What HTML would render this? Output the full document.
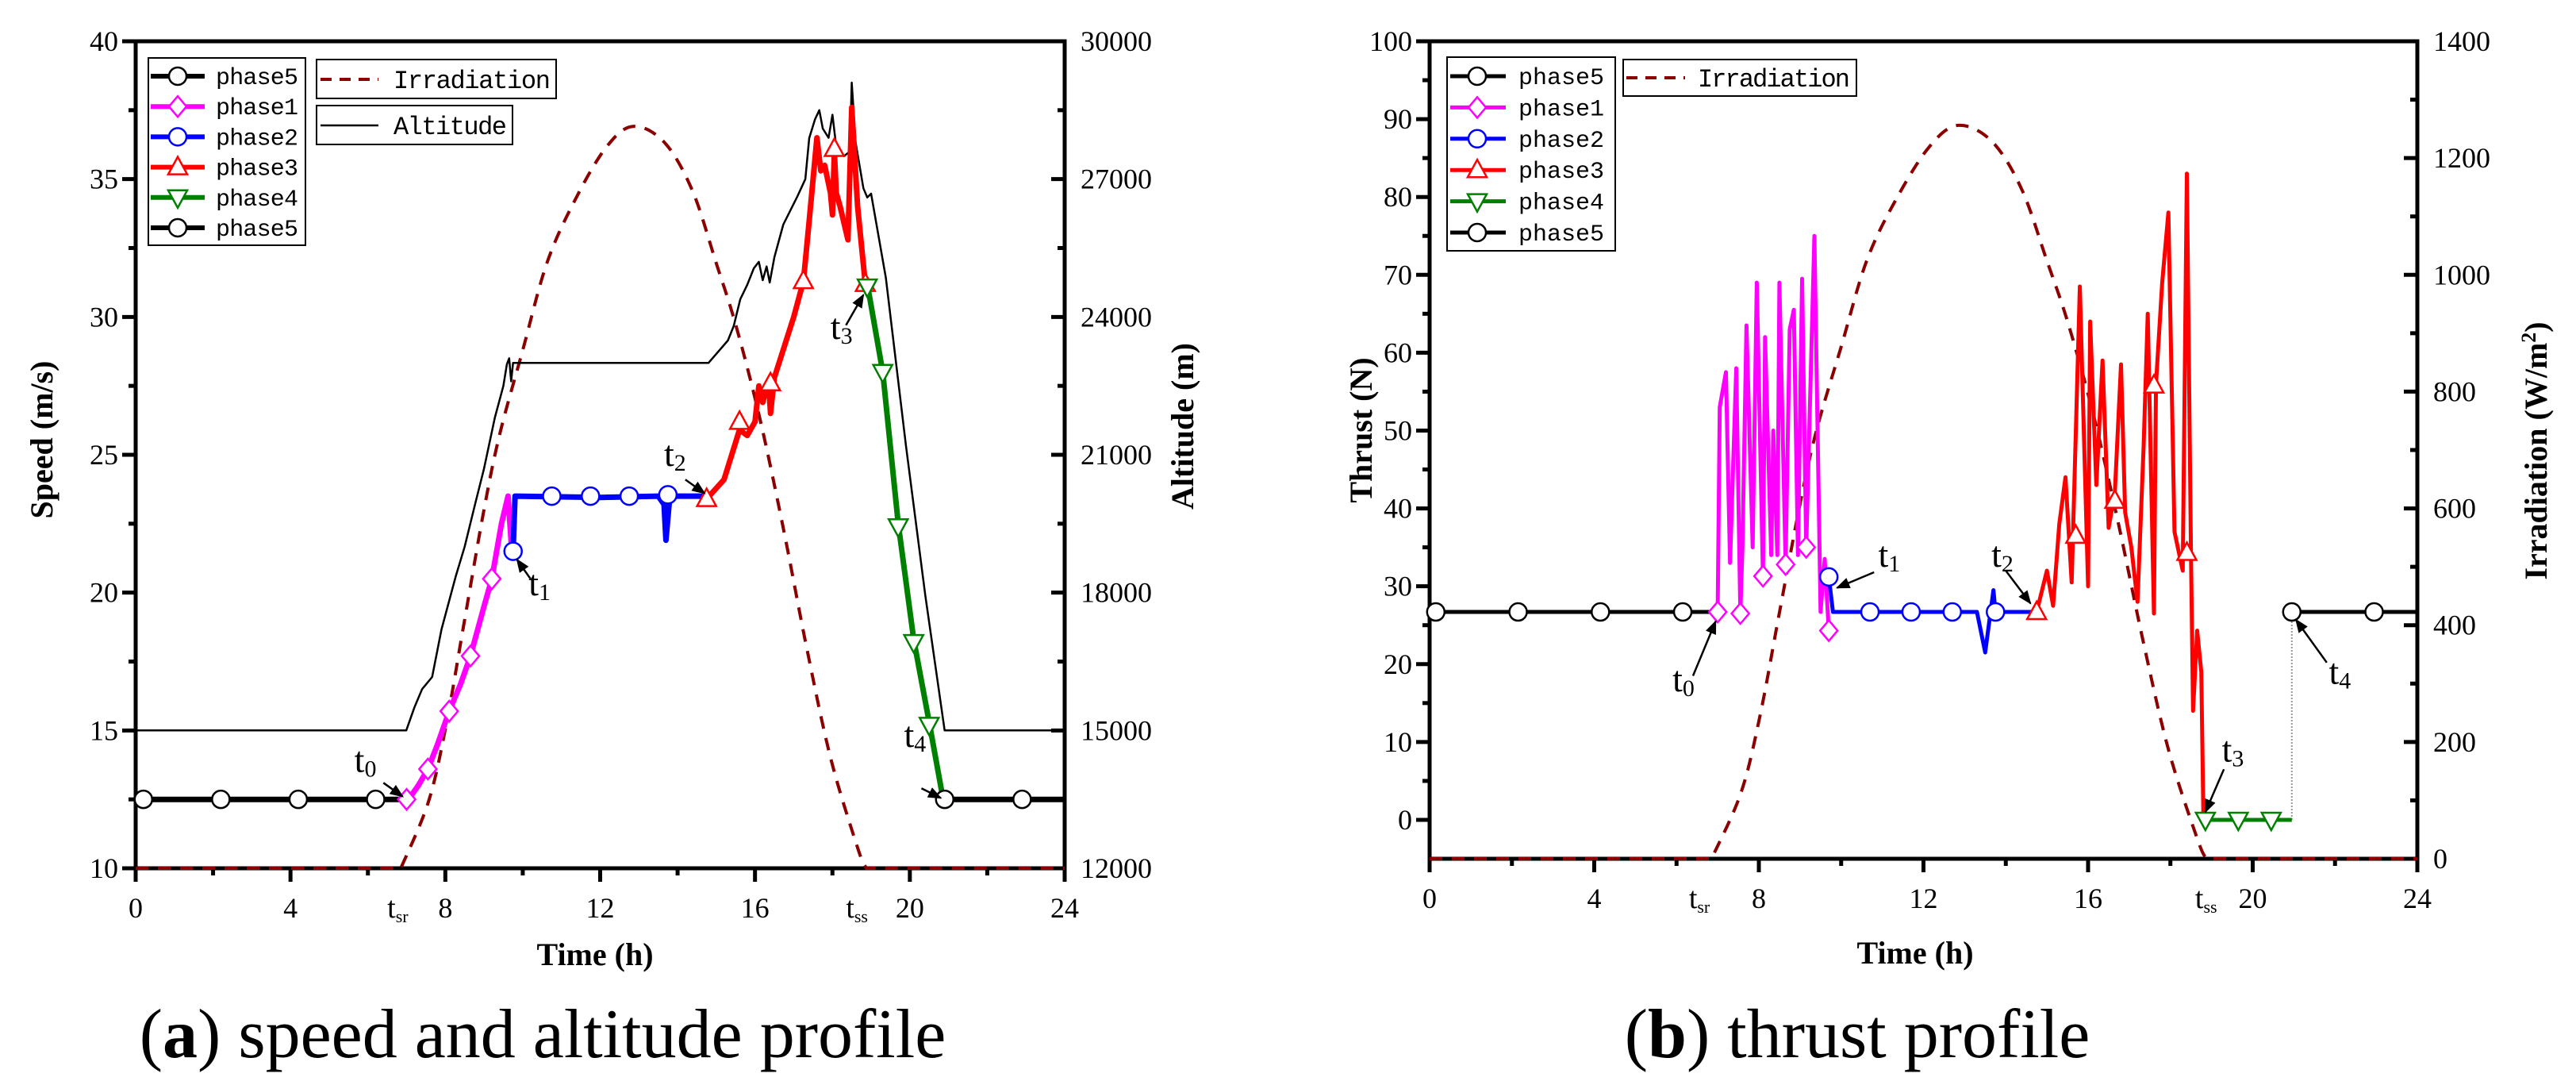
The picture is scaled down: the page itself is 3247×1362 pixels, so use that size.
<!DOCTYPE html>
<html><head><meta charset="utf-8"><style>
html,body{margin:0;padding:0;background:#fff}
svg{display:block;font-family:"Liberation Serif",serif}
</style></head><body>
<svg id="s" width="3247" height="1362" viewBox="0 0 3247 1362" xmlns="http://www.w3.org/2000/svg">
<defs><marker id="ah" viewBox="0 0 10 10" refX="9" refY="5" markerWidth="7" markerHeight="7" orient="auto"><path d="M0,1 L10,5 L0,9 z" fill="#000"/></marker></defs>
</svg>
<script>
// ---- shared irradiation data ----
const irrT=[0,6.85,7.56,8.02,8.48,8.98,9.39,10.0,10.62,11.34,12.15,12.85,13.67,14.39,15.0,15.51,16.12,16.73,17.34,17.96,18.67,18.88,24];
const irrV=[0,0,112,242,414,600,731,877,1024,1130,1220,1256,1228,1146,1024,918,763,576,372,185,31,0,0];
// ---- panel a: speed ----
const a5aT=[0,7], a5aV=[12.5,12.5], a5aMT=[0.2,2.2,4.2,6.2];
const a1T=[7,7.3,7.55,7.8,8.1,8.4,8.65,9.0,9.2,9.45,9.62,9.72];
const a1V=[12.4,13.0,13.6,14.5,15.7,16.7,17.7,19.5,20.5,22.5,23.5,21.4];
const a1MT=[7,7.55,8.1,8.65,9.2], a1MV=[12.5,13.6,15.7,17.7,20.5];
const a2T=[9.75,9.8,12.0,13.5,13.65,13.7,13.8,14.75];
const a2V=[21.5,23.5,23.45,23.5,23.2,21.9,23.5,23.5];
const a2MT=[9.75,10.75,11.75,12.75,13.75], a2MV=[21.5,23.5,23.5,23.5,23.55];
const a3T=[14.75,15.2,15.6,15.8,16.0,16.1,16.2,16.35,16.4,16.5,17.0,17.25,17.4,17.6,17.7,17.8,17.95,18.0,18.05,18.1,18.2,18.4,18.5,18.65,18.85];
const a3V=[23.4,24.1,25.9,25.7,26.2,27.5,26.9,27.7,26.5,27.8,30.0,31.3,33.5,36.5,35.3,35.5,34.5,33.7,36.0,34.5,34.0,32.8,37.6,34.0,31.2];
const a3MT=[14.75,15.6,16.4,17.25,18.05,18.85], a3MV=[23.4,26.2,27.6,31.3,36.1,31.2];
const a4T=[18.9,19.3,19.7,20.1,20.5,20.9], a4V=[31.2,28.0,22.5,18.3,15.3,12.2];
const a4MT=[18.9,19.3,19.7,20.1,20.5], a4MV=[31.1,28.0,22.4,18.2,15.2];
const a5bT=[20.9,24], a5bV=[12.5,12.5], a5bMT=[20.9,22.9];
const altT=[0,6.99,7.2,7.4,7.66,7.9,8.27,8.5,8.77,9.0,9.28,9.5,9.59,9.65,9.7,9.75,10,14.8,15.3,15.45,15.62,15.8,15.97,16.1,16.2,16.3,16.38,16.5,16.73,17.1,17.3,17.4,17.55,17.66,17.75,17.9,18.0,18.1,18.3,18.45,18.5,18.6,18.8,18.9,19.0,19.38,19.9,20.4,20.9,24];
const altV=[15000,15000,15500,15900,16163,17200,18357,19000,19929,20700,21812,22500,22970,23100,22600,23000,23000,23000,23487,23800,24386,24700,25059,25200,24800,25100,24749,25300,26010,26632,27000,27892,28300,28500,28100,27900,28400,27700,27500,27600,29100,27800,26800,26600,26684,24852,21190,17942,15000,15000];
// ---- panel b: thrust ----
const b5aT=[0,7], b5aV=[26.7,26.7], b5aMT=[0.15,2.15,4.15,6.15];
const b1T=[7.0,7.05,7.2,7.3,7.45,7.55,7.6,7.7,7.85,7.95,8.1,8.15,8.3,8.35,8.45,8.5,8.65,8.75,8.85,8.95,9.05,9.15,9.35,9.5,9.6,9.7];
const b1V=[26.7,53,57.5,33,58,26.5,35,63.5,35,69,31,62,34,50,34,69,33,63,65.5,34,69.5,35,75,26.7,33.5,24.3];
const b1MT=[7.0,7.55,8.1,8.65,9.15,9.7], b1MV=[26.7,26.5,31.3,32.8,35,24.3];
const b2T=[9.7,9.8,13.3,13.5,13.7,13.75,14.75], b2V=[31.2,26.7,26.7,21.5,29.5,26.7,26.7];
const b2MT=[9.7,10.7,11.7,12.7,13.75], b2MV=[31.2,26.7,26.7,26.7,26.7];
const b3T=[14.75,15.0,15.15,15.3,15.45,15.6,15.8,16.0,16.05,16.2,16.35,16.5,16.65,16.8,16.9,17.05,17.2,17.35,17.45,17.6,17.65,17.8,17.95,18.1,18.3,18.4,18.5,18.55,18.65,18.75,18.8];
const b3V=[26.7,32,27.5,38,44,30.5,68.5,30,64,43,59,37.5,42,58.5,39.5,35,28,48,65,26.5,56,69,78,37,32,83,34,14,24.3,19,0.5];
const b3MT=[14.75,15.7,16.65,17.6,18.4], b3MV=[26.7,36.5,41,55.8,34.3];
const b4T=[18.85,20.95], b4V=[0,0], b4MT=[18.85,19.65,20.45];
const b5bT=[20.95,24], b5bV=[26.7,26.7], b5bMT=[20.95,22.95];
// ---- tick labels ----
const xTicks=[0,4,8,12,16,20,24];
const speedTicks=[10,15,20,25,30,35,40];
const altTicks=[12000,15000,18000,21000,24000,27000,30000];
const thrustTicks=[0,10,20,30,40,50,60,70,80,90,100];
const irrTicks=[0,200,400,600,800,1000,1200,1400];

const S=document.getElementById('s');
const NS='http://www.w3.org/2000/svg';
const MONO='"Liberation Mono", monospace';
function mk(tag,attrs,parent,name){const e=document.createElementNS(NS,tag);for(const k in attrs)e.setAttribute(k,attrs[k]);(parent||S).appendChild(e);


return e;}
function lin(d0,d1,p0,p1){return v=>p0+(v-d0)*(p1-p0)/(d1-d0);}
function path(T,V,X,Y,attrs,name,g){let d='';T.forEach((t,i)=>{d+=(i?'L':'M')+X(t).toFixed(1)+','+Y(V[i]).toFixed(1);});const a=Object.assign({d:d,fill:'none','stroke-linejoin':'round'},attrs);return mk('path',a,g,name);}
function smoothPath(T,V,X,Y,attrs,name,g){
  const P=T.map((t,i)=>[X(t),Y(V[i])]);
  const flat=i=>(i>=0&&i<P.length-1&&P[i][1]===P[i+1][1]);
  let d='M'+P[0][0].toFixed(1)+','+P[0][1].toFixed(1);
  for(let i=0;i<P.length-1;i++){
    const p1=P[i],p2=P[i+1];
    if(flat(i)){d+='L'+p2[0].toFixed(1)+','+p2[1].toFixed(1);continue;}
    const p0=(i>0&&!flat(i-1))?P[i-1]:p1;
    const p3=(i+2<P.length&&!flat(i+1))?P[i+2]:p2;
    const c1=[p1[0]+(p2[0]-p0[0])/6,p1[1]+(p2[1]-p0[1])/6];
    const c2=[p2[0]-(p3[0]-p1[0])/6,p2[1]-(p3[1]-p1[1])/6];
    d+='C'+c1[0].toFixed(1)+','+c1[1].toFixed(1)+' '+c2[0].toFixed(1)+','+c2[1].toFixed(1)+' '+p2[0].toFixed(1)+','+p2[1].toFixed(1);
  }
  const a=Object.assign({d:d,fill:'none'},attrs);return mk('path',a,g,name);
}
function marker(type,x,y,col,g,name){
  const r=11;
  if(type==='c') return mk('circle',{cx:x,cy:y,r:r,fill:'#fff',stroke:col,'stroke-width':2.5},g,name);
  let pts;
  if(type==='d') pts=[[x,y-13],[x+11,y],[x,y+13],[x-11,y]];
  if(type==='u') pts=[[x,y-13],[x+12,y+9],[x-12,y+9]];
  if(type==='v') pts=[[x,y+13],[x+12,y-9],[x-12,y-9]];
  return mk('polygon',{points:pts.map(p=>p.join(',')).join(' '),fill:'#fff',stroke:col,'stroke-width':2.5},g,name);
}
function markers(type,T,V,X,Y,col,g,name){T.forEach((t,i)=>{marker(type,X(t),Y(Array.isArray(V)?V[i]:V),col,g,name);});}
function txt(s,x,y,attrs,g,name){const e=mk('text',Object.assign({x:x,y:y},attrs),g,name);e.textContent=s;return e;}
function tlabel(main,sub,x,y,g,name,fs,sfs){const e=mk('text',{x:x,y:y,'font-size':fs||46},g,name);const a=document.createElementNS(NS,'tspan');a.textContent=main;e.appendChild(a);const b=document.createElementNS(NS,'tspan');b.setAttribute('font-size',sfs||30);b.setAttribute('dy',6);b.textContent=sub;e.appendChild(b);return e;}
function arrow(x1,y1,x2,y2,g,name){return mk('line',{x1:x1,y1:y1,x2:x2,y2:y2,stroke:'#000','stroke-width':2.5,'marker-end':'url(#ah)'},g,name);}

function frame(g,L,R,T,B,X,yl,yr,ylTicks,yrTicks,ylMinor,yrMinor,name){
  mk('rect',{x:L,y:T,width:R-L,height:B-T,fill:'none',stroke:'#000','stroke-width':5},g,name+'-frame');
  const ax=mk('g',{},g,'x-axis');
  xTicks.forEach(t=>{mk('line',{x1:X(t),x2:X(t),y1:B,y2:B+17,stroke:'#000','stroke-width':5},ax,'x-tick');});
  for(let t=2;t<24;t+=4){mk('line',{x1:X(t),x2:X(t),y1:B,y2:B+9,stroke:'#000','stroke-width':5},ax,'x-minor-tick');}
  xTicks.forEach(t=>{txt(String(t),X(t),B+62,{'font-size':36,'text-anchor':'middle'},ax,'x-tick-label');});
  const ay=mk('g',{},g,'y-axis-left');
  ylTicks.forEach(v=>{mk('line',{x1:L-17,x2:L,y1:yl(v),y2:yl(v),stroke:'#000','stroke-width':5},ay,'y-tick');
    txt(String(v),L-22,yl(v)+12,{'font-size':36,'text-anchor':'end'},ay,'y-tick-label');});
  ylMinor.forEach(v=>{mk('line',{x1:L-9,x2:L,y1:yl(v),y2:yl(v),stroke:'#000','stroke-width':5},ay,'y-minor-tick');});
  const ar=mk('g',{},g,'y-axis-right');
  yrTicks.forEach(v=>{mk('line',{x1:R-17,x2:R,y1:yr(v),y2:yr(v),stroke:'#000','stroke-width':5},ar,'y2-tick');
    txt(String(v),R+20,yr(v)+12,{'font-size':36,'text-anchor':'start'},ar,'y2-tick-label');});
  yrMinor.forEach(v=>{mk('line',{x1:R-9,x2:R,y1:yr(v),y2:yr(v),stroke:'#000','stroke-width':5},ar,'y2-minor-tick');});
}

// ================= Panel A =================
(function(){
  const L=171,R=1342,T=52,B=1094;
  const X=lin(0,24,L,R), Y=lin(10,40,B,T), YA=lin(12000,30000,B,T), YI=lin(0,1400,B,T);
  const g=mk('g',{},S,'panel-a');
  const sm=[];for(let v=12.5;v<40;v+=5)sm.push(v);
  const am=[];for(let v=13500;v<30000;v+=3000)am.push(v);
  frame(g,L,R,T,B,X,Y,YA,speedTicks,altTicks,sm,am,'panel-a');
  smoothPath(irrT,irrV,X,YI,{stroke:'#8b0000','stroke-width':4,'stroke-dasharray':'16 12'},'irradiation-line',g);
  path(altT,altV,X,YA,{stroke:'#000','stroke-width':2.5},'altitude-line',g);
  path(a5aT,a5aV,X,Y,{stroke:'#000','stroke-width':7},'phase5-start-line',g);
  path(a1T,a1V,X,Y,{stroke:'#ff00ff','stroke-width':7},'phase1-line',g);
  path(a2T,a2V,X,Y,{stroke:'#0000ff','stroke-width':7},'phase2-line',g);
  path(a3T,a3V,X,Y,{stroke:'#ff0000','stroke-width':7},'phase3-line',g);
  path(a4T,a4V,X,Y,{stroke:'#008000','stroke-width':7},'phase4-line',g);
  path(a5bT,a5bV,X,Y,{stroke:'#000','stroke-width':7},'phase5-end-line',g);
  markers('c',a5aMT,12.5,X,Y,'#000',g,'phase5-marker');
  markers('d',a1MT,a1MV,X,Y,'#ff00ff',g,'phase1-marker');
  markers('c',a2MT,a2MV,X,Y,'#0000ff',g,'phase2-marker');
  markers('u',a3MT,a3MV,X,Y,'#ff0000',g,'phase3-marker');
  markers('v',a4MT,a4MV,X,Y,'#008000',g,'phase4-marker');
  markers('c',a5bMT,12.5,X,Y,'#000',g,'phase5-marker');
  tlabel('t','0',X(5.65),Y(13.5),g,'t0-label'); arrow(X(6.4),Y(13.1),X(6.9),Y(12.6),g,'t0-arrow');
  tlabel('t','1',X(10.15),Y(19.9),g,'t1-label'); arrow(X(10.2),Y(20.5),X(9.85),Y(21.2),g,'t1-arrow');
  tlabel('t','2',X(13.65),Y(24.6),g,'t2-label'); arrow(X(14.2),Y(24.1),X(14.7),Y(23.6),g,'t2-arrow');
  tlabel('t','3',X(17.95),Y(29.2),g,'t3-label'); arrow(X(18.35),Y(29.7),X(18.8),Y(30.8),g,'t3-arrow');
  tlabel('t','4',X(19.85),Y(14.4),g,'t4-label'); arrow(X(20.3),Y(12.9),X(20.8),Y(12.55),g,'t4-arrow');
  tlabel('t','sr',X(6.5),B+62,g,'tsr-label',38,22); tlabel('t','ss',X(18.35),B+62,g,'tss-label',38,22);
  txt('Time (h)',750,B+122,{'font-size':40,'font-weight':'bold','text-anchor':'middle'},g,'x-axis-title');
  txt('Speed (m/s)',0,0,{'font-size':40,'font-weight':'bold','text-anchor':'middle',transform:'translate(66,554) rotate(-90)'},g,'y-axis-title');
  txt('Altitude (m)',0,0,{'font-size':40,'font-weight':'bold','text-anchor':'middle',transform:'translate(1504,537) rotate(-90)'},g,'y2-axis-title');
  const cap=mk('text',{x:684,y:1332,'font-size':88,'text-anchor':'middle'},g,'caption-a');
  cap.innerHTML='(<tspan font-weight="bold">a</tspan>) speed and altitude profile';
  const lg=mk('g',{},g,'legend-phases');
  mk('rect',{x:187,y:73,width:198,height:236,fill:'#fff',stroke:'#000','stroke-width':2},lg,'legend-box');
  const items=[['phase5','#000','c'],['phase1','#ff00ff','d'],['phase2','#0000ff','c'],['phase3','#ff0000','u'],['phase4','#008000','v'],['phase5','#000','c']];
  items.forEach((it,i)=>{const y=96+i*38.2;mk('line',{x1:190,x2:258,y1:y,y2:y,stroke:it[1],'stroke-width':6},lg,'legend-line');
    marker(it[2],224,y,it[1],lg,'legend-marker');txt(it[0],272,y+10,{'font-size':30,'font-family':MONO,textLength:104},lg,'legend-entry');});
  const l2=mk('g',{},g,'legend-irradiation');
  mk('rect',{x:399,y:75,width:302,height:49,fill:'#fff',stroke:'#000','stroke-width':2},l2,'legend-box');
  mk('line',{x1:404,x2:477,y1:100,y2:100,stroke:'#8b0000','stroke-width':4,'stroke-dasharray':'14 10'},l2,'legend-line');
  txt('Irradiation',496,111,{'font-size':32,'font-family':MONO,textLength:198},l2,'legend-entry');
  const l3=mk('g',{},g,'legend-altitude');
  mk('rect',{x:399,y:133,width:247,height:49,fill:'#fff',stroke:'#000','stroke-width':2},l3,'legend-box');
  mk('line',{x1:404,x2:477,y1:158,y2:158,stroke:'#000','stroke-width':2.5},l3,'legend-line');
  txt('Altitude',496,169,{'font-size':32,'font-family':MONO,textLength:143},l3,'legend-entry');
})();

// ================= Panel B =================
(function(){
  const L=1802,R=3047,T=52,B=1082;
  const X=lin(0,24,L,R), Y=lin(-5,100,B,T), YI=lin(0,1400,B,T);
  const g=mk('g',{},S,'panel-b');
  const tm=[];for(let v=5;v<100;v+=10)tm.push(v);
  const im=[];for(let v=100;v<1400;v+=200)im.push(v);
  frame(g,L,R,T,B,X,Y,YI,thrustTicks,irrTicks,tm,im,'panel-b');
  smoothPath(irrT,irrV,X,YI,{stroke:'#8b0000','stroke-width':4,'stroke-dasharray':'16 12'},'irradiation-line',g);
  mk('line',{x1:X(20.95),x2:X(20.95),y1:Y(0),y2:Y(26.7),stroke:'#999','stroke-width':2,'stroke-dasharray':'2 2'},g,'t4-connector');
  path(b5aT,b5aV,X,Y,{stroke:'#000','stroke-width':5},'phase5-start-line',g);
  path(b1T,b1V,X,Y,{stroke:'#ff00ff','stroke-width':5},'phase1-line',g);
  path(b2T,b2V,X,Y,{stroke:'#0000ff','stroke-width':5},'phase2-line',g);
  path(b3T,b3V,X,Y,{stroke:'#ff0000','stroke-width':5},'phase3-line',g);
  path(b4T,b4V,X,Y,{stroke:'#008000','stroke-width':5},'phase4-line',g);
  path(b5bT,b5bV,X,Y,{stroke:'#000','stroke-width':5},'phase5-end-line',g);
  markers('c',b5aMT,26.7,X,Y,'#000',g,'phase5-marker');
  markers('d',b1MT,b1MV,X,Y,'#ff00ff',g,'phase1-marker');
  markers('c',b2MT,b2MV,X,Y,'#0000ff',g,'phase2-marker');
  markers('u',b3MT,b3MV,X,Y,'#ff0000',g,'phase3-marker');
  markers('v',b4MT,0,X,Y,'#008000',g,'phase4-marker');
  markers('c',b5bMT,26.7,X,Y,'#000',g,'phase5-marker');
  tlabel('t','0',X(5.9),Y(16.5),g,'t0-label'); arrow(X(6.4),Y(18.5),X(6.95),Y(25.5),g,'t0-arrow');
  tlabel('t','1',X(10.9),Y(32.5),g,'t1-label'); arrow(X(10.8),Y(31.8),X(9.9),Y(29.8),g,'t1-arrow');
  tlabel('t','2',X(13.65),Y(32.5),g,'t2-label'); arrow(X(14.0),Y(32.0),X(14.6),Y(27.8),g,'t2-arrow');
  tlabel('t','3',X(19.25),Y(7.5),g,'t3-label'); arrow(X(19.3),Y(6.5),X(18.85),Y(1.0),g,'t3-arrow');
  tlabel('t','4',X(21.85),Y(17.5),g,'t4-label'); arrow(X(21.8),Y(20.2),X(21.05),Y(25.7),g,'t4-arrow');
  tlabel('t','sr',X(6.3),B+62,g,'tsr-label',38,22); tlabel('t','ss',X(18.6),B+62,g,'tss-label',38,22);
  txt('Time (h)',2414,1214,{'font-size':40,'font-weight':'bold','text-anchor':'middle'},g,'x-axis-title');
  txt('Thrust (N)',0,0,{'font-size':40,'font-weight':'bold','text-anchor':'middle',transform:'translate(1729,542) rotate(-90)'},g,'y-axis-title');
  const yt=mk('text',{'font-size':40,'font-weight':'bold','text-anchor':'middle',transform:'translate(3210,568) rotate(-90)'},g,'y2-axis-title');
  yt.innerHTML='Irradiation (W/m<tspan font-size="26" dy="-14">2</tspan><tspan dy="14">)</tspan>';
  const cap=mk('text',{x:2341,y:1332,'font-size':88,'text-anchor':'middle'},g,'caption-b');
  cap.innerHTML='(<tspan font-weight="bold">b</tspan>) thrust profile';
  const lg=mk('g',{},g,'legend-phases');
  mk('rect',{x:1824,y:72,width:212,height:244,fill:'#fff',stroke:'#000','stroke-width':2},lg,'legend-box');
  const items=[['phase5','#000','c'],['phase1','#ff00ff','d'],['phase2','#0000ff','c'],['phase3','#ff0000','u'],['phase4','#008000','v'],['phase5','#000','c']];
  items.forEach((it,i)=>{const y=96+i*39.4;mk('line',{x1:1828,x2:1898,y1:y,y2:y,stroke:it[1],'stroke-width':5},lg,'legend-line');
    marker(it[2],1862,y,it[1],lg,'legend-marker');txt(it[0],1914,y+10,{'font-size':30,'font-family':MONO,textLength:108},lg,'legend-entry');});
  const l2=mk('g',{},g,'legend-irradiation');
  mk('rect',{x:2046,y:75,width:294,height:46,fill:'#fff',stroke:'#000','stroke-width':2},l2,'legend-box');
  mk('line',{x1:2050,x2:2124,y1:98,y2:98,stroke:'#8b0000','stroke-width':4,'stroke-dasharray':'14 10'},l2,'legend-line');
  txt('Irradiation',2140,109,{'font-size':32,'font-family':MONO,textLength:192},l2,'legend-entry');
})();
</script>
</body></html>
